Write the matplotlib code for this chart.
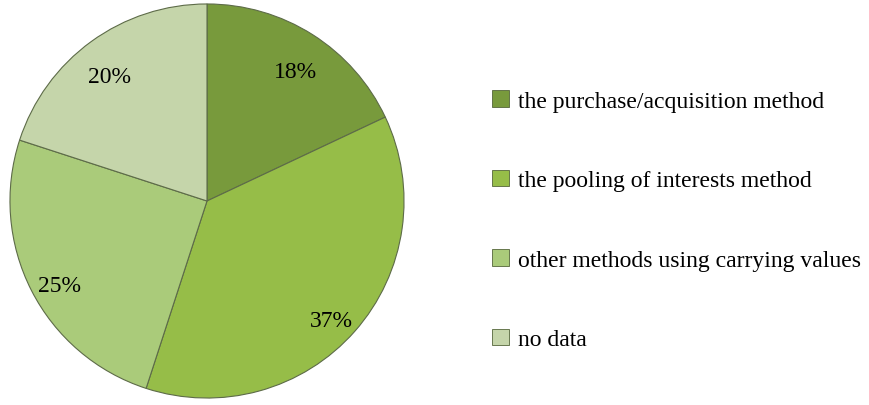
import matplotlib.pyplot as plt
from matplotlib.patches import Patch

labels = ['the purchase/acquisition method', 'the pooling of interests method',
          'other methods using carrying values', 'no data']
shares = [18, 37, 25, 20]
colors = ['#789a3c', '#96bd48', '#aacb7a', '#c5d5aa']

plt.rcParams['font.family'] = ['Liberation Serif', 'DejaVu Serif']

fig = plt.figure(figsize=(8.7, 4.06), dpi=100)
ax = fig.add_axes([8 / 870, 5 / 406, 398 / 870, 398 / 406])

wedges, texts, autotexts = ax.pie(
    shares, colors=colors, startangle=90, counterclock=False,
    autopct='%1.0f%%', pctdistance=0.84,
    wedgeprops=dict(edgecolor='#5d6b48', linewidth=0.8),
    textprops=dict(fontsize=17, color='black'))
# percentages sit a little lower in the original
for t in autotexts:
    x, y = t.get_position()
    t.set_position((x, y - 0.05))
ax.set_xlim(-1.01, 1.01)
ax.set_ylim(-1.01, 1.01)

handles = [Patch(facecolor=c, edgecolor='#55663a', linewidth=0.6) for c in colors]
fig.legend(handles, labels, loc='center left', bbox_to_anchor=(0.566, 0.455),
           frameon=False, fontsize=17, handlelength=0.7, handleheight=0.7,
           handletextpad=0.4, labelspacing=2.45, borderpad=0, borderaxespad=0)

fig.savefig('out.png', dpi=100)
